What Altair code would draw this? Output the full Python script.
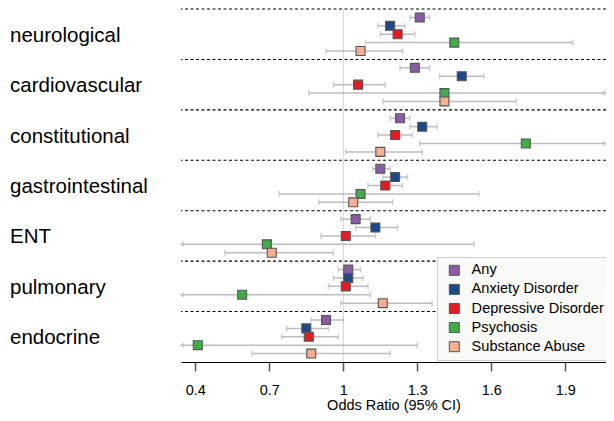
import altair as alt
import pandas as pd

groups = ["neurological", "cardiovascular", "constitutional", "gastrointestinal",
          "ENT", "pulmonary", "endocrine"]
series = ["Any", "Anxiety Disorder", "Depressive Disorder", "Psychosis", "Substance Abuse"]
colors = ["#8c5ba7", "#1b4a8b", "#e61b22", "#3fae49", "#f7ad8e"]

# odds ratio per series, across groups (top to bottom)
or_any = [1.31, 1.29, 1.23, 1.15, 1.05, 1.02, 0.93]
or_anx = [1.19, 1.48, 1.32, 1.21, 1.13, 1.02, 0.85]
or_dep = [1.22, 1.06, 1.21, 1.17, 1.01, 1.01, 0.86]
or_psy = [1.45, 1.41, 1.74, 1.07, 0.69, 0.59, 0.41]
or_sub = [1.07, 1.41, 1.15, 1.04, 0.71, 1.16, 0.87]

lo_any = [1.27, 1.23, 1.19, 1.12, 0.99, 0.98, 0.87]
lo_anx = [1.14, 1.39, 1.27, 1.16, 1.05, 0.96, 0.77]
lo_dep = [1.15, 0.96, 1.14, 1.10, 0.91, 0.94, 0.75]
lo_psy = [1.09, 0.86, 1.31, 0.74, 0.30, 0.31, 0.15]
lo_sub = [0.93, 1.16, 1.01, 0.90, 0.52, 0.99, 0.63]

hi_any = [1.35, 1.35, 1.27, 1.19, 1.11, 1.07, 1.00]
hi_anx = [1.25, 1.57, 1.38, 1.26, 1.22, 1.08, 0.94]
hi_dep = [1.29, 1.17, 1.28, 1.24, 1.13, 1.10, 0.98]
hi_psy = [1.93, 2.45, 2.60, 1.55, 1.53, 1.11, 1.30]
hi_sub = [1.24, 1.70, 1.32, 1.20, 0.96, 1.36, 1.19]

tick_values = [0.4, 0.7, 1.0, 1.3, 1.6, 1.9]

XMIN, XMAX = 0.342, 2.065
W, H = 425, 353
NSLOT = 42

ors = [or_any, or_anx, or_dep, or_psy, or_sub]
los = [lo_any, lo_anx, lo_dep, lo_psy, lo_sub]
his = [hi_any, hi_anx, hi_dep, hi_psy, hi_sub]

rows, caps, larr, rarr = [], [], [], []
for s, name in enumerate(series):
    for g, grp in enumerate(groups):
        slot = g * 6 + s + 1
        lo, hi = los[s][g], his[s][g]
        rows.append({"group": grp, "series": name, "slot": slot, "or": ors[s][g],
                     "lo": max(lo, XMIN), "hi": min(hi, XMAX)})
        if lo >= XMIN:
            caps.append({"x": lo, "slot": slot})
        else:
            larr.append({"x": XMIN, "slot": slot})
        if hi <= XMAX:
            caps.append({"x": hi, "slot": slot})
        else:
            rarr.append({"x": XMAX, "slot": slot})

df = pd.DataFrame(rows)
caps_df = pd.DataFrame(caps)
larr_df = pd.DataFrame(larr)
rarr_df = pd.DataFrame(rarr)
sep_df = pd.DataFrame({"slot": [g * 6 for g in range(len(groups))]})
lab_df = pd.DataFrame({"group": groups, "slot": [g * 6 + 3 for g in range(len(groups))]})

xs = alt.Scale(domain=[XMIN, XMAX], nice=False, zero=False)
ys = alt.Scale(domain=[0, NSLOT], reverse=True, nice=False, zero=False)
yenc = alt.Y("slot:Q", scale=ys, axis=None)

FONT = "Liberation Sans"
GRAY = "#bdbdbd"

vline = alt.Chart(pd.DataFrame({"x": [1.0]})).mark_rule(color="#d4d4d4", strokeWidth=1).encode(
    x=alt.X("x:Q", scale=xs,
            axis=alt.Axis(values=tick_values, format="~g", title="Odds Ratio (95% CI)",
                          labelFontSize=14.5, titleFontSize=14.5, titleFontWeight="normal",
                          labelFont=FONT, titleFont=FONT, labelColor="#000", titleColor="#000",
                          domainColor="#000", domainWidth=1.2, tickColor="#555", tickWidth=1.5,
                          tickSize=9, labelPadding=12, titlePadding=2, grid=False))
)

seps = alt.Chart(sep_df).mark_rule(color="#000", strokeWidth=1.1, strokeDash=[3, 2.5]).encode(y=yenc)

ci = alt.Chart(df).mark_rule(color=GRAY, strokeWidth=1.5).encode(
    x=alt.X("lo:Q", scale=xs), x2="hi:Q", y=yenc)

cap = alt.Chart(caps_df).mark_tick(color=GRAY, orient="vertical", size=6, thickness=1.5).encode(
    x=alt.X("x:Q", scale=xs), y=yenc)

la = alt.Chart(larr_df).mark_point(shape="M1.6,-1.1L0,0L1.6,1.1", filled=False, color=GRAY,
                                   strokeWidth=1.4, size=16).encode(x=alt.X("x:Q", scale=xs), y=yenc)
ra = alt.Chart(rarr_df).mark_point(shape="M-1.6,-1.1L0,0L-1.6,1.1", filled=False, color=GRAY,
                                   strokeWidth=1.4, size=16).encode(x=alt.X("x:Q", scale=xs), y=yenc)

pts = alt.Chart(df).mark_square(size=80, stroke="#555", strokeWidth=1.1, opacity=1).encode(
    x=alt.X("or:Q", scale=xs),
    y=yenc,
    color=alt.Color("series:N", scale=alt.Scale(domain=series, range=colors),
                    legend=alt.Legend(title=None, orient="none", legendX=256, legendY=248,
                                      symbolType="square", symbolSize=100, symbolStrokeColor="#555",
                                      symbolStrokeWidth=1, symbolOpacity=1,
                                      labelFontSize=14.6, labelFont=FONT, labelColor="#000",
                                      labelOffset=10, rowPadding=3.1, padding=6, symbolOffset=4,
                                      fillColor="#fafaf9", strokeColor="#cfcfcf", labelLimit=400))
)

labels = alt.Chart(lab_df).mark_text(align="left", baseline="alphabetic", dy=7.5, fontSize=20.5,
                                      font=FONT, color="#000").encode(
    x=alt.value(-171), y=yenc, text="group:N")

chart = alt.layer(vline, seps, ci, cap, la, ra, pts, labels).properties(
    width=W, height=H, autosize=alt.AutoSizeParams(type="none"),
    padding={"left": 173, "top": 1, "right": 0, "bottom": 51}
).configure_view(stroke=None)

chart.save("out.html", embed_options={"renderer": "svg", "actions": False})
